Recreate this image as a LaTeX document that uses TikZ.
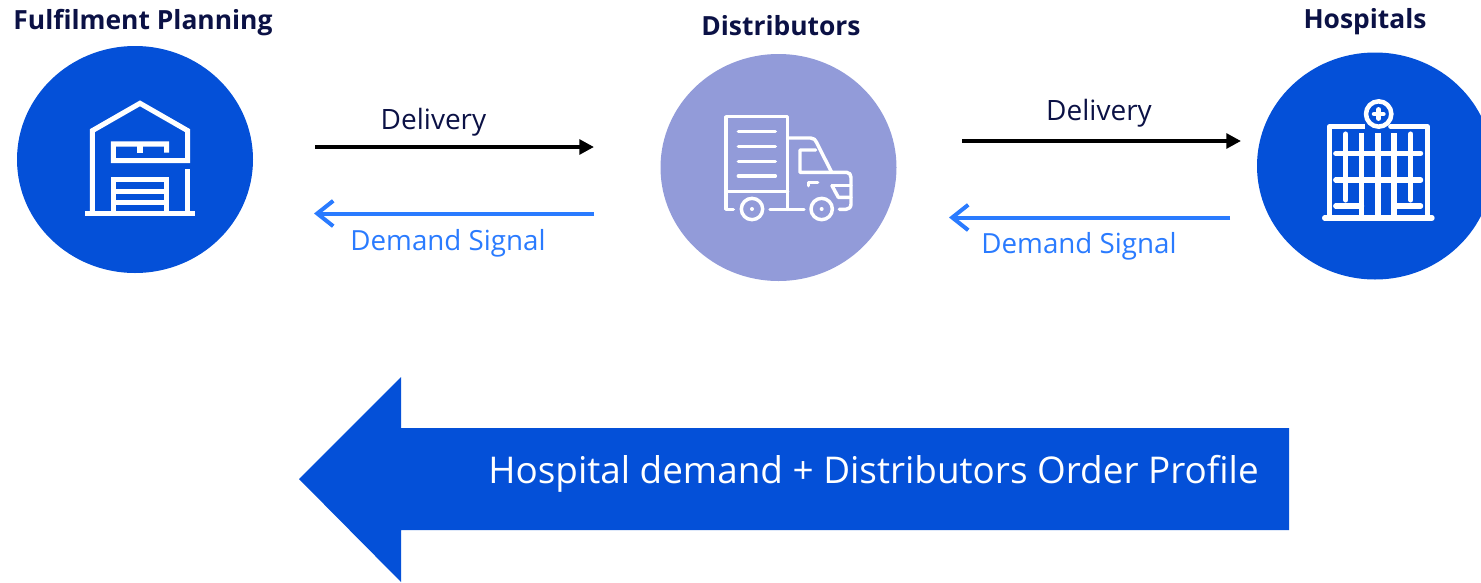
\documentclass[tikz,border=0pt]{standalone}
\usepackage{fontspec}
\setmainfont{Open Sans}
\usetikzlibrary{arrows.meta,shapes.geometric}
\definecolor{royal}{HTML}{0450D8}
\definecolor{lav}{HTML}{929BD9}
\definecolor{navy}{HTML}{0B1145}
\definecolor{sky}{HTML}{2A7BFF}
\tikzset{
  disc/.style={ellipse,minimum width=177pt,minimum height=170.25pt,inner sep=0pt,fill=#1},
  title/.style={font=\fontsize{19.8}{23}\selectfont\bfseries,text=navy,inner sep=0pt},
  dlabel/.style={font=\fontsize{21}{25}\selectfont,text=navy,inner sep=0pt},
  slabel/.style={font=\fontsize{20.8}{25}\selectfont,text=sky,inner sep=0pt},
  deliv/.style={draw=black,line width=3.2pt,-{Triangle[length=11pt,width=11pt]}},
  signal/.style={draw=sky,line width=3pt,-{Straight Barb[length=12pt,width=19pt,line width=3pt]}},
  icon/.style={draw=white,line join=miter},
  iconr/.style={draw=white,line cap=round,line join=round},
}
\begin{document}
\begin{tikzpicture}[x=0.75pt,y=-0.75pt]
\useasboundingbox (0,0) rectangle (1481,582);
\begin{scope}
\clip (0,0) rectangle (1481,582);
\node[disc=royal] (plan) at (135,159.5) {};
\node[disc=lav] (dist) at (778.5,167.5) {};
\node[disc=royal] (hosp) at (1375,166) {};
\end{scope}
% titles
\node[title] (tplan) at (143,23) {Fulfilment Planning};
\node[title] (tdist) at (781,26) {Distributors};
\node[title] (thosp) at (1365,22) {Hospitals};
% connectors
\coordinate (a1s) at (315,147); \coordinate (a1e) at (594,147);
\coordinate (a2s) at (594,213.5); \coordinate (a2e) at (314,213.5);
\coordinate (a3s) at (962,141); \coordinate (a3e) at (1241,141);
\coordinate (a4s) at (1230,217.5); \coordinate (a4e) at (949,217.5);
\draw[deliv] (a1s) -- (a1e);
\draw[signal] (a2s) -- (a2e);
\draw[deliv] (a3s) -- (a3e);
\draw[signal] (a4s) -- (a4e);
\node[dlabel] (l1) at (433.5,122.5) {Delivery};
\node[slabel] (l2) at (448,243.5) {Demand Signal};
\node[dlabel] (l3) at (1099,113.5) {Delivery};
\node[slabel] (l4) at (1079,246.5) {Demand Signal};
% big arrow
\fill[royal] (299,479) -- (401,377) -- (401,428) -- (1289,428) -- (1289,530) -- (401,530) -- (401,582) -- cycle;
\node[font=\fontsize{27.65}{33}\selectfont,text=white,inner sep=0pt] (big) at (873.5,473.5) {Hospital demand + Distributors Order Profile};
% warehouse icon
\begin{scope}[shift={(0pt,-22.5pt)},x=0.25pt,y=-0.25pt,icon,line width=3.8pt]
\draw (277,545) -- (277,302) -- (420,220) -- (563,302) -- (563,392) -- (340,392) -- (340,342) -- (500,342) -- (500,368);
\draw (420,342) -- (420,368);
\draw (340,545) -- (340,448) -- (500,448) -- (500,545);
\draw (340,484) -- (500,484);
\draw (340,517) -- (500,517);
\draw (563,418) -- (563,545);
\draw[line width=4pt] (255,550) -- (586,550);
\end{scope}
% truck icon
\begin{scope}[shift={(487.5pt,-37.5pt)},x=0.25pt,y=-0.25pt,iconr,line width=2.6pt]
\draw (250,478) -- (228,478) -- (228,200) -- (413,200) -- (413,478);
\draw (228,424) -- (413,424);
\draw (360,478) -- (462,478);
\foreach \yy in {244,290,335,378} \draw (265,\yy) -- (376,\yy);
\draw (413,264) -- (482,264) .. controls (492,264) and (496,270) .. (499,276) -- (545,367);
\draw (497,300) -- (450,300) -- (450,367) -- (590,367) .. controls (598,367) and (603,374) .. (603,382) -- (603,462) .. controls (603,472) and (596,478) .. (588,478) -- (568,478);
\draw (475,407) -- (475,398) -- (503,398);
\draw (546,407) -- (603,407);
\draw (546,407) -- (565,442) -- (603,442);
\draw (306,477) circle[radius=32];
\draw (515,477) circle[radius=32];
\fill[white] (306,477) circle[radius=6];
\fill[white] (515,477) circle[radius=6];
\end{scope}
% hospital icon
\begin{scope}[shift={(937.5pt,-37.5pt)},x=0.25pt,y=-0.25pt,iconr,line width=3.8pt]
\draw[line cap=butt,line join=round] (238,495) -- (238,230) -- (346,230);
\draw[line cap=round,line join=round] (422,230) -- (532,230) -- (532,495);
\draw[line width=3.4pt] (386,192) circle[radius=38];
\draw[line width=3.4pt] (386,178) -- (386,206);
\draw[line width=3.4pt] (372,192) -- (400,192);
\draw (287,252) -- (287,450);
\draw (482,252) -- (482,450);
\draw[line cap=butt] (335,250) -- (335,495);
\draw[line cap=butt] (384,250) -- (384,495);
\draw[line cap=butt] (432,250) -- (432,495);
\draw (257,310) -- (512,310);
\draw (257,390) -- (512,390);
\draw (257,468) -- (335,468);
\draw (432,468) -- (512,468);
\draw[line width=4pt] (224,504) -- (546,504);
\end{scope}
\end{tikzpicture}
\end{document}
